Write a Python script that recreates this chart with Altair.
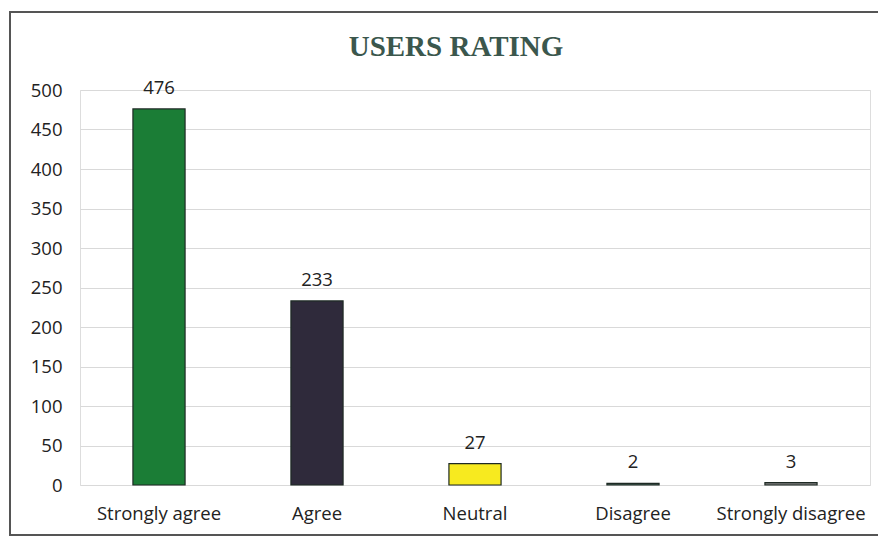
import altair as alt
import pandas as pd

title_text = ["USERS RATING"]
categories = ["Strongly agree", "Agree", "Neutral", "Disagree", "Strongly disagree"]
counts = [476, 233, 27, 2, 3]
bar_colors = ["#1b7d36", "#2f2a3b", "#f7ea1f", "#3e5c53", "#7d7d7d"]
y_ticks = [0, 50, 100, 150, 200, 250, 300, 350, 400, 450, 500]

df = pd.DataFrame({"category": categories, "count": counts, "color": bar_colors})

FONT = "Open Sans"
FS = 18.5

x_enc = alt.X("category:N", sort=categories, title=None,
              scale=alt.Scale(paddingInner=0.67, paddingOuter=0.335),
              axis=alt.Axis(labelAngle=0, labelFontSize=FS, labelColor="#222222",
                            labelFont=FONT, labelPadding=19, ticks=False, domain=False))
y_enc = alt.Y("count:Q", title=None,
              scale=alt.Scale(domain=[0, 500], nice=False),
              axis=alt.Axis(values=y_ticks, labelFontSize=FS, labelColor="#222222",
                            labelFont=FONT, labelPadding=18, ticks=False, domain=False,
                            labelOverlap=False,
                            gridColor="#d9d9d9", gridWidth=1.2))

bars = alt.Chart(df).mark_bar(stroke="#1e2a24", strokeWidth=1.2).encode(
    x=x_enc, y=y_enc, color=alt.Color("color:N", scale=None)
)

labels = alt.Chart(df).mark_text(dy=-11, baseline="bottom", fontSize=FS,
                                 font=FONT, color="#222222").encode(
    x=x_enc,
    y=y_enc,
    text="count:Q",
)

frame = alt.Chart(df).mark_rect(fill=None, stroke="#555555", strokeWidth=1.5).encode(
    x=alt.value(-70), x2=alt.value(804), y=alt.value(-78), y2=alt.value(445)
)

title = alt.Chart(pd.DataFrame({"t": title_text})).mark_text(
    font="Liberation Serif", fontSize=29, fontWeight="bold", color="#3b574d",
    align="center", baseline="middle"
).encode(x=alt.value(376), y=alt.value(-43), text="t:N")

chart = alt.layer(frame, bars, labels, title).properties(
    width=790, height=395,
    autosize=alt.AutoSizeParams(type="none"),
    padding={"left": 72, "top": 82, "right": 8, "bottom": 60},
).configure_view(stroke=None).configure(background="white")

chart.save("out.html", embed_options={"renderer": "svg", "actions": False})
